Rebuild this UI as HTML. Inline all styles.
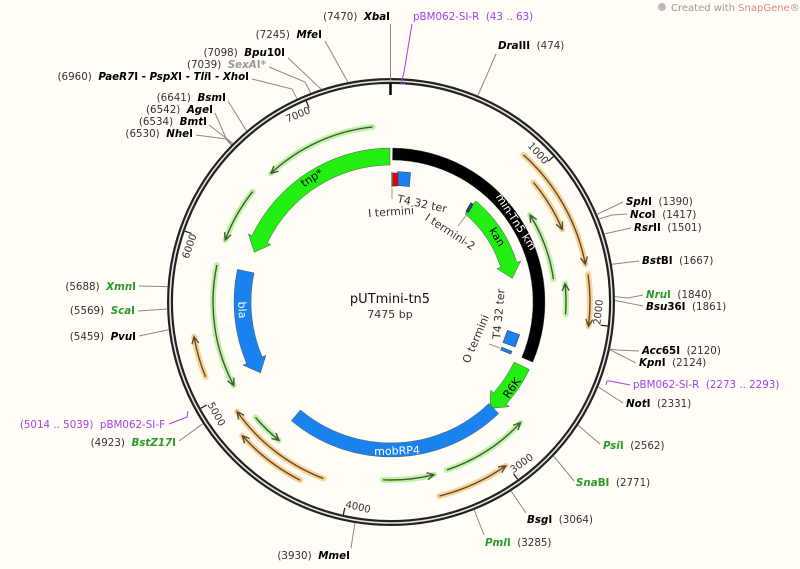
<!DOCTYPE html>
<html><head><meta charset="utf-8">
<style>
html,body{margin:0;padding:0;background:#fffdf6;}
svg{display:block;font-family:"DejaVu Sans","Liberation Sans",sans-serif;}
text{white-space:pre;}
</style></head>
<body>
<svg id="s" width="800" height="569" viewBox="0 0 800 569" xmlns="http://www.w3.org/2000/svg">
<rect width="800" height="569" fill="#fffdf6"/>
<g id="g"></g>
<text x="390" y="303" text-anchor="middle" font-size="13" fill="#111">pUTmini-tn5</text>
<text x="390" y="318" text-anchor="middle" font-size="11" fill="#333">7475 bp</text>
<g font-size="10" fill="#999"><circle cx="662" cy="7" r="4" fill="#bbb"/><text x="671" y="11">Created with <tspan fill="#d88">SnapGene</tspan>®</text></g>
</svg>
<script>
const NS="http://www.w3.org/2000/svg";const g=document.getElementById('g');
const cx=391,cy=302,TOT=7475;
function P(a,r){const t=a*Math.PI/180;return [cx+r*Math.sin(t),cy-r*Math.cos(t)];}
function f(p){return p[0].toFixed(2)+","+p[1].toFixed(2);}
function el(tag,attrs,txt){const e=document.createElementNS(NS,tag);for(const k in attrs)e.setAttribute(k,attrs[k]);if(txt!=null)e.textContent=txt;g.appendChild(e);return e;}
function arc(a1,a2,r){const l=(a2-a1)>180?1:0;return `M${f(P(a1,r))} A${r},${r} 0 ${l} 1 ${f(P(a2,r))}`;}
function bp(b){return b/TOT*360;}
el('circle',{cx,cy,r:221,fill:'none',stroke:'#222','stroke-width':6});
el('circle',{cx,cy,r:221,fill:'none',stroke:'#e8e6e0','stroke-width':1.6});
el('line',{x1:390.5,y1:83,x2:390.5,y2:95,stroke:'#000','stroke-width':2.5});
for(let k=1;k<=7;k++){const a=bp(k*1000);const p1=P(a,218),p2=P(a,211);
el('line',{x1:p1[0],y1:p1[1],x2:p2[0],y2:p2[1],stroke:'#222','stroke-width':1.3});
let rot=(a<90||a>270)?(a>270?a-360:a):a-180;const cw=(a<90||a>270);
const p=P(a,208);
el('text',{x:p[0],y:p[1],'font-size':10,fill:'#333','text-anchor':cw?'end':'start','dominant-baseline':'central',transform:`rotate(${rot} ${p[0]} ${p[1]})`},String(k*1000));}
function band(a1,a2,ro,ri,arrow,col){const rm=(ro+ri)/2,h=14/rm*180/Math.PI;let d;
if(arrow==='end'){const b=a2-h;d=`M${f(P(a1,ro))} A${ro},${ro} 0 ${(b-a1)>180?1:0} 1 ${f(P(b,ro))} L${f(P(b,ro+4))} L${f(P(a2,rm))} L${f(P(b,ri-4))} L${f(P(b,ri))} A${ri},${ri} 0 ${(b-a1)>180?1:0} 0 ${f(P(a1,ri))} Z`;}
else if(arrow==='start'){const b=a1+h;d=`M${f(P(b,ro))} A${ro},${ro} 0 ${(a2-b)>180?1:0} 1 ${f(P(a2,ro))} L${f(P(a2,ri))} A${ri},${ri} 0 ${(a2-b)>180?1:0} 0 ${f(P(b,ri))} L${f(P(b,ri-4))} L${f(P(a1,rm))} L${f(P(b,ro+4))} Z`;}
else{d=`M${f(P(a1,ro))} A${ro},${ro} 0 ${(a2-a1)>180?1:0} 1 ${f(P(a2,ro))} L${f(P(a2,ri))} A${ri},${ri} 0 ${(a2-a1)>180?1:0} 0 ${f(P(a1,ri))} Z`;}
el('path',{d,fill:col,stroke:'#555','stroke-width':0.5});}
const GR='#22ee11',BL='#1a82ee';
band(0.6,113,154,142,null,'#000');
band(290,359.6,154,137,'start',GR);
band(40,79,132,115,'end',GR);
band(116,137,154,137,'end',GR);
band(136,220,155,141,null,BL);
band(241.5,282,157,140,'start',BL);
function thin(a1,a2,r,col,arrow){const halo=col==='o'?'#f9d296':'#bff3a8',ln=col==='o'?'#5c4a30':'#3f5a35';
el('path',{d:arc(a1,a2,r),fill:'none',stroke:halo,'stroke-width':6,'stroke-linecap':'round'});
el('path',{d:arc(a1,a2,r),fill:'none',stroke:ln,'stroke-width':1.4});
const h=7/r*180/Math.PI;let t,b;if(arrow==='end'){t=a2;b=a2-h;}else{t=a1;b=a1+h;}
el('path',{d:`M${f(P(b,r+3.5))} L${f(P(t,r))} L${f(P(b,r-3.5))}`,fill:'none',stroke:ln,'stroke-width':1.4});}
[[42,79,198,'o','end'],[50,67,186,'o','end'],[82,97,199,'o','end'],[248,260,200,'o','end'],[201,234.5,189,'o','end'],[207,228,200,'o','end'],[145,166,200,'o','start'],
[58,82,164,'g','start'],[84,94,175,'g','start'],[317,354,176,'g','start'],[290.5,308.6,177,'g','start'],[242,282,178,'g','start'],[219,229.6,178,'g','start'],[166,182.6,178,'g','start'],[133,161.6,177,'g','start']].forEach(a=>thin(...a));
function rt(x,y,rot,txt,col,size){el('text',{x,y,'font-size':size||11,fill:col,'text-anchor':'middle','dominant-baseline':'central',transform:`rotate(${rot} ${x} ${y})`},txt);}
rt(312,178,-32.5,'tnp*','#000');rt(497,237,58.5,'kan','#000');rt(516,222,57,'min-Tn5 km','#fff');
rt(512,388,-55,'R6K','#000');rt(397,451,-2,'mobRP4','#fff');rt(242,310,87,'bla','#fff');
el('rect',{x:397,y:172,width:13,height:14,fill:BL,stroke:'#333','stroke-width':0.5,transform:'rotate(5 403 179)'});
el('rect',{x:393,y:173,width:5,height:13,fill:'#e00',stroke:'#333','stroke-width':0.5});
el('line',{x1:392,y1:172,x2:392,y2:187,stroke:'#333','stroke-width':1});
el('line',{x1:392,y1:188,x2:392,y2:199,stroke:'#999','stroke-width':1});
el('rect',{x:468,y:203,width:3,height:10,fill:'#1a4a90',stroke:'#333','stroke-width':0.5,transform:'rotate(30 470 208)'});
el('line',{x1:468,y1:213,x2:458,y2:226,stroke:'#999','stroke-width':1});
el('rect',{x:505,y:332,width:13,height:13,fill:BL,stroke:'#333','stroke-width':0.5,transform:'rotate(20 511 338)'});
el('rect',{x:501,y:349,width:11,height:3,fill:BL,stroke:'#333','stroke-width':0.5,transform:'rotate(22 506 350)'});
el('line',{x1:500,y1:348,x2:489,y2:344,stroke:'#999','stroke-width':1});
rt(422,204,12,'T4 32 ter','#333',11);rt(391,212,-4,'I termini','#333',11);rt(450,232,33,'I termini-2','#333',11);
rt(499,314,-85,'T4 32 ter','#333',11);rt(476,339,-67,'O termini','#333',11);
function lab(x,y,anchor,num,name,col,side,pts,lcol){
 const t=el('text',{x,y,'font-size':10.3,'text-anchor':anchor});
 const add=(s,attrs)=>{const ts=document.createElementNS(NS,'tspan');for(const k in attrs)ts.setAttribute(k,attrs[k]);ts.textContent=s;t.appendChild(ts);};
 const nm=()=>{if(col==='p'){add(name,{fill:'#a040f0'});return;}const c=col==='g'?'#2a9a2a':col==='x'?'#999':'#000';
   const parts=name.split('_');parts.forEach((s,i)=>{if(!s)return;add(s,{fill:c,'font-weight':'bold','font-style':i%2?'italic':'normal'});});};
 const nu=()=>add(num,{fill:col==='p'?'#a040f0':'#333'});
 if(side==='L'){nu();add('  ',{});nm();}else{nm();add('  ',{});nu();}
 if(pts){el('polyline',{points:pts.map(p=>p.join(',')).join(' '),fill:'none',stroke:lcol||'#888','stroke-width':1});}
}
const C=b=>{const p=P(bp(b),224);return [p[0].toFixed(1),p[1].toFixed(1)];};
lab(390,20,'end','(7470)','_Xba_I','k','L',[[390.5,24],[390.5,80]]);
lab(413,20,'start','(43 .. 63)','pBM062-SI-R','p','R',[[412,24],[404,72],[401,84],[405,84]],'#a040f0');
lab(498,49,'start','(474)','_Dra_III','k','R',[[496,54],C(474)]);
lab(322,38,'end','(7245)','_Mfe_I','k','L',[[325,41],C(7245)]);
lab(285,56,'end','(7098)','_Bpu_10I','k','L',[[288,58],C(7098)]);
lab(266,68,'end','(7039)','_SexA_I*','x','L',[[269,67],[305,82],C(7039)]);
lab(249,80,'end','(6960)','_PaeR7_I - _PspX_I - _Tli_I - _Xho_I','k','L',[[252,79],[292,89],C(6960)]);
lab(226,101,'end','(6641)','_Bsm_I','k','L',[[228,101],C(6641)]);
lab(213,113,'end','(6542)','_Age_I','k','L',[[215,113],[226,138],C(6542)]);
lab(207,125,'end','(6534)','_Bmt_I','k','L',[[209,125],[226,138],C(6534)]);
lab(193,137,'end','(6530)','_Nhe_I','k','L',[[196,135],[226,139],C(6530)]);
lab(626,205,'start','(1390)','_Sph_I','k','R',[[623,202],C(1390)]);
lab(630,218,'start','(1417)','_Nco_I','k','R',[[627,214],[612,215],C(1417)]);
lab(634,231,'start','(1501)','_Rsr_II','k','R',[[631,228],C(1501)]);
lab(642,264,'start','(1667)','_Bst_BI','k','R',[[639,261],C(1667)]);
lab(646,298,'start','(1840)','_Nru_I','g','R',[[643,295],[628,298],C(1840)]);
lab(646,310,'start','(1861)','_Bsu_36I','k','R',[[643,306],[628,303],C(1861)]);
lab(642,354,'start','(2120)','_Acc_65I','k','R',[[639,351],[617,350],C(2120)]);
lab(639,366,'start','(2124)','_Kpn_I','k','R',[[636,363],C(2124)]);
lab(633,388,'start','(2273 .. 2293)','pBM062-SI-R','p','R',[[630,385],[610,381],[607,381],[606,385]],'#a040f0');
lab(626,407,'start','(2331)','_Not_I','k','R',[[623,403],C(2331)]);
lab(603,449,'start','(2562)','_Psi_I','g','R',[[600,444],C(2562)]);
lab(576,486,'start','(2771)','_Sna_BI','g','R',[[574,481],C(2771)]);
lab(527,523,'start','(3064)','_Bsg_I','k','R',[[526,513],C(3064)]);
lab(485,546,'start','(3285)','_Pml_I','g','R',[[484,535],C(3285)]);
lab(350,559,'end','(3930)','_Mme_I','k','L',[[351,548],C(3930)]);
lab(136,290,'end','(5688)','_Xmn_I','g','L',[[139,286],C(5688)]);
lab(135,314,'end','(5569)','_Sca_I','g','L',[[138,311],C(5569)]);
lab(136,340,'end','(5459)','_Pvu_I','k','L',[[139,336],C(5459)]);
lab(165,428,'end','(5014 .. 5039)','pBM062-SI-F','p','L',[[169,424],[187,417],[188,411]],'#a040f0');
lab(176,446,'end','(4923)','_BstZ17_I','g','L',[[179,441],C(4923)]);
</script>
</body></html>
